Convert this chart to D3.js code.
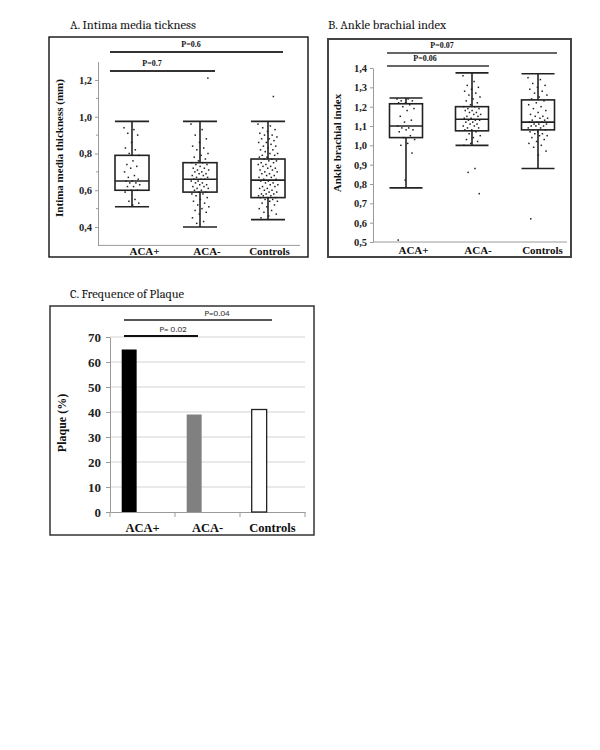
<!DOCTYPE html>
<html><head><meta charset="utf-8">
<script src="https://cdn.jsdelivr.net/npm/d3@7"></script>
<style>body{margin:0;background:#fff}svg{display:block}</style>
</head><body><svg id="c" width="600" height="750"></svg>
<script>
// ---------- DATA ----------
const groups = ["ACA+", "ACA-", "Controls"];

// Panel A: intima media thickness (mm)
const imtTicks = [0.4, 0.6, 0.8, 1.0, 1.2];
const imtQ1 = [0.60, 0.59, 0.56];
const imtMedian = [0.65, 0.66, 0.655];
const imtQ3 = [0.79, 0.75, 0.77];
const imtLow = [0.51, 0.40, 0.44];
const imtHigh = [0.975, 0.975, 0.975];
const imtAcaPos = [0.94,0.93,0.91,0.90,0.86,0.83,0.82,0.80,0.79,0.76,0.74,0.73,0.72,0.70,0.68,0.67,0.66,0.65,0.65,0.64,0.64,0.63,0.62,0.62,0.60,0.60,0.59,0.55,0.54,0.53,0.52];
const imtAcaNeg = [0.96,0.93,0.90,0.88,0.86,0.84,0.83,0.82,0.80,0.79,0.78,0.77,0.76,0.75,0.75,0.74,0.74,0.73,0.72,0.72,0.71,0.71,0.70,0.70,0.69,0.69,0.68,0.68,0.67,0.67,0.66,0.66,0.66,0.65,0.65,0.64,0.64,0.63,0.63,0.62,0.62,0.61,0.61,0.60,0.60,0.59,0.59,0.58,0.58,0.57,0.56,0.55,0.54,0.53,0.52,0.51,0.50,0.49,0.48,0.47,0.45,0.43,0.42,1.21];
const imtControls = [0.96,0.95,0.94,0.93,0.92,0.91,0.90,0.90,0.89,0.88,0.88,0.87,0.86,0.86,0.85,0.84,0.84,0.83,0.82,0.82,0.81,0.80,0.80,0.79,0.79,0.78,0.78,0.77,0.77,0.76,0.76,0.75,0.75,0.74,0.74,0.73,0.73,0.72,0.72,0.71,0.71,0.70,0.70,0.69,0.69,0.68,0.68,0.67,0.67,0.66,0.66,0.65,0.65,0.64,0.64,0.63,0.63,0.62,0.62,0.61,0.61,0.60,0.60,0.59,0.59,0.58,0.58,0.58,0.57,0.57,0.57,0.56,0.56,0.56,0.55,0.55,0.54,0.54,0.53,0.52,0.51,0.50,0.49,0.48,0.47,0.46,0.45,1.11];
const imtPLabels = ["P=0.7", "P=0.6"];

// Panel B: ankle brachial index
const abiTicks = [0.5,0.6,0.7,0.8,0.9,1.0,1.1,1.2,1.3,1.4];
const abiQ1 = [1.04, 1.075, 1.08];
const abiMedian = [1.10, 1.135, 1.12];
const abiQ3 = [1.215, 1.20, 1.235];
const abiLow = [0.78, 1.00, 0.88];
const abiHigh = [1.245, 1.375, 1.37];
const abiAcaPos = [1.24,1.24,1.23,1.23,1.22,1.22,1.21,1.20,1.19,1.18,1.15,1.13,1.12,1.10,1.09,1.09,1.08,1.08,1.07,1.05,1.04,1.03,1.01,1.00,0.96,0.82,0.51];
const abiAcaNeg = [1.36,1.33,1.31,1.30,1.29,1.28,1.27,1.26,1.25,1.24,1.23,1.22,1.21,1.20,1.20,1.19,1.19,1.18,1.18,1.17,1.17,1.16,1.16,1.15,1.15,1.14,1.14,1.13,1.13,1.13,1.12,1.12,1.11,1.11,1.10,1.10,1.09,1.09,1.08,1.08,1.07,1.06,1.05,1.04,1.03,1.02,1.01,1.00,0.88,0.86,0.75];
const abiControls = [1.35,1.34,1.32,1.31,1.30,1.29,1.28,1.27,1.26,1.25,1.24,1.23,1.22,1.21,1.20,1.19,1.18,1.17,1.16,1.15,1.15,1.14,1.14,1.13,1.13,1.12,1.12,1.12,1.11,1.11,1.11,1.10,1.10,1.10,1.09,1.09,1.08,1.08,1.07,1.07,1.06,1.06,1.05,1.05,1.04,1.03,1.02,1.01,1.00,0.99,0.97,0.95,0.62];
const abiPLabels = ["P=0.06", "P=0.07"];

// Panel C: frequence of plaque (%)
const plaqueTicks = [0, 10, 20, 30, 40, 50, 60, 70];
const plaqueValues = [65, 39, 41];
const plaqueColors = ["#000000", "#808080", "#ffffff"];
const plaquePLabels = ["P= 0.02", "P=0.04"];

// ---------- DRAW ----------
const svg = d3.select("#c");
const serif = "'Liberation Serif', 'Times New Roman', serif";
const title = "Cambria, 'DejaVu Serif', serif";

function frame(x0, y0, x1, y1, color, w) {
  svg.append("rect").attr("x", x0).attr("y", y0).attr("width", x1 - x0).attr("height", y1 - y0)
    .attr("fill", "none").attr("stroke", color).attr("stroke-width", w);
}
function titleText(x, y, t) {
  svg.append("text").attr("x", x).attr("y", y).attr("font-family", title).attr("font-size", 12.5)
    .attr("fill", "#111").text(t);
}
function yLabel(x, y, t, size) {
  svg.append("text").attr("transform", `translate(${x},${y}) rotate(-90)`).attr("text-anchor", "middle")
    .attr("font-family", serif).attr("font-weight", "bold").attr("font-size", size).attr("fill", "#111").text(t);
}
function jitter(i, w) { return (((i * 0.6180339887) % 1) - 0.5) * w; }

function boxPanel(cfg) {
  const y = d3.scaleLinear().domain(cfg.domain).range(cfg.yRange);
  const xb = d3.scalePoint().domain(groups).range(cfg.boxRange);
  const xl = d3.scalePoint().domain(groups).range(cfg.labelRange);
  // y axis
  const ya = svg.append("g").attr("transform", `translate(${cfg.axisX},0)`)
    .call(d3.axisLeft(y).tickValues(cfg.ticks).tickSize(3).tickSizeOuter(0)
      .tickFormat(d => d.toFixed(1).replace(".", ",")));
  ya.select(".domain").attr("stroke", "#9a9a9a");
  ya.selectAll(".tick line").attr("stroke", "#9a9a9a");
  ya.selectAll("text").attr("font-family", serif).attr("font-weight", "bold").attr("font-size", 10.5).attr("fill", "#222");
  if (cfg.minor) {
    svg.append("g").selectAll("line").data(cfg.minor).join("line")
      .attr("x1", cfg.axisX - 2).attr("x2", cfg.axisX).attr("y1", d => y(d)).attr("y2", d => y(d)).attr("stroke", "#9a9a9a");
  }
  // x axis
  const xa = svg.append("g").attr("transform", `translate(0,${y(cfg.domain[0])})`)
    .call(d3.axisBottom(xl).tickSize(0).tickPadding(cfg.labelPad));
  xa.select(".domain").remove();
  svg.append("line").attr("x1", cfg.axisX).attr("x2", cfg.axisEnd).attr("y1", y(cfg.domain[0])).attr("y2", y(cfg.domain[0]))
    .attr("stroke", "#9a9a9a");
  xa.selectAll("text").attr("font-family", serif).attr("font-weight", "bold").attr("font-size", 11).attr("fill", "#111");

  const bw = cfg.boxW;
  groups.forEach((g, i) => {
    const cx = xb(g);
    const gg = svg.append("g").attr("stroke", "#222").attr("stroke-width", 1.6).attr("fill", "none");
    gg.append("line").attr("x1", cx).attr("x2", cx).attr("y1", y(cfg.low[i])).attr("y2", y(cfg.high[i]));
    gg.append("line").attr("x1", cx - bw / 2).attr("x2", cx + bw / 2).attr("y1", y(cfg.low[i])).attr("y2", y(cfg.low[i]));
    gg.append("line").attr("x1", cx - bw / 2).attr("x2", cx + bw / 2).attr("y1", y(cfg.high[i])).attr("y2", y(cfg.high[i]));
    gg.append("rect").attr("x", cx - bw / 2).attr("y", y(cfg.q3[i])).attr("width", bw)
      .attr("height", y(cfg.q1[i]) - y(cfg.q3[i])).attr("fill", "#fff");
    gg.append("line").attr("x1", cx - bw / 2).attr("x2", cx + bw / 2).attr("y1", y(cfg.med[i])).attr("y2", y(cfg.med[i]));
    svg.append("g").selectAll("rect").data(cfg.points[i]).join("rect")
      .attr("x", (d, j) => cx + jitter(j, cfg.jit[i]) - 0.75).attr("y", d => y(d) - 0.75)
      .attr("width", 1.5).attr("height", 1.5).attr("fill", "#222");
  });
  // significance bars
  cfg.sig.forEach((s, k) => {
    svg.append("line").attr("x1", s.x1).attr("x2", s.x2).attr("y1", s.y).attr("y2", s.y)
      .attr("stroke", cfg.sigColor).attr("stroke-width", 1.8);
    svg.append("text").attr("x", s.lx).attr("y", s.y - 5).attr("text-anchor", "middle")
      .attr("font-family", serif).attr("font-weight", "bold").attr("font-size", 8).attr("fill", "#111").text(cfg.pLabels[k]);
  });
}

// Panel A
frame(49, 37, 308, 257, "#111", 1.4);
titleText(70, 29, "A. Intima media tickness");
yLabel(63, 148, "Intima media thickness (mm)", 11);
boxPanel({
  domain: [0.3, 1.3], yRange: [245.4, 61.6], ticks: imtTicks, minor: [0.5, 0.7, 0.9, 1.1],
  axisX: 98, axisEnd: 300, boxRange: [132, 268], labelRange: [144, 269], boxW: 34, labelPad: 1.5,
  q1: imtQ1, med: imtMedian, q3: imtQ3, low: imtLow, high: imtHigh,
  points: [imtAcaPos, imtAcaNeg, imtControls], jit: [16, 18, 20],
  sig: [{ x1: 110, x2: 215, y: 71, lx: 152 }, { x1: 110, x2: 283, y: 52, lx: 191 }],
  sigColor: "#333", pLabels: imtPLabels
});

// Panel B
frame(328, 39, 571, 257, "#444", 2);
titleText(328, 29, "B. Ankle brachial index");
yLabel(341, 143, "Ankle brachial index", 11);
boxPanel({
  domain: [0.5, 1.4], yRange: [242, 68], ticks: abiTicks, minor: null,
  axisX: 373, axisEnd: 567, boxRange: [406, 538], labelRange: [413, 542], boxW: 33, labelPad: 4,
  q1: abiQ1, med: abiMedian, q3: abiQ3, low: abiLow, high: abiHigh,
  points: [abiAcaPos, abiAcaNeg, abiControls], jit: [18, 18, 20],
  sig: [{ x1: 387, x2: 489, y: 66, lx: 425 }, { x1: 387, x2: 557, y: 53, lx: 442 }],
  sigColor: "#666", pLabels: abiPLabels
});

// Panel C
frame(50, 306, 314, 535, "#333", 1.5);
titleText(70, 298, "C. Frequence of Plaque");
yLabel(66, 423, "Plaque (%)", 12);
const yC = d3.scaleLinear().domain([0, 70]).range([512, 337]);
const xC = d3.scaleBand().domain(groups).range([110, 305]);
svg.append("g").selectAll("line").data(plaqueTicks.filter(d => d > 0)).join("line")
  .attr("x1", 110).attr("x2", 305).attr("y1", d => yC(d)).attr("y2", d => yC(d)).attr("stroke", "#d3d3d3");
const yaC = svg.append("g").attr("transform", "translate(110,0)")
  .call(d3.axisLeft(yC).tickValues(plaqueTicks).tickSize(4).tickSizeOuter(0).tickPadding(5));
yaC.select(".domain").attr("stroke", "#9a9a9a");
yaC.selectAll(".tick line").attr("stroke", "#9a9a9a");
yaC.selectAll("text").attr("font-family", serif).attr("font-weight", "bold").attr("font-size", 13).attr("fill", "#222");
const xaC = svg.append("g").attr("transform", "translate(0,512)")
  .call(d3.axisBottom(xC).tickSize(0).tickPadding(11));
xaC.select(".domain").attr("stroke", "#9a9a9a");
xaC.selectAll("text").attr("font-family", serif).attr("font-weight", "bold").attr("font-size", 12.5).attr("fill", "#111");
svg.append("g").selectAll("line").data(groups.map(g => xC(g)).concat([305])).join("line")
  .attr("x1", d => d).attr("x2", d => d).attr("y1", 512).attr("y2", 517).attr("stroke", "#9a9a9a");
svg.append("g").selectAll("rect").data(plaqueValues).join("rect")
  .attr("x", (d, i) => xC(groups[i]) + xC.bandwidth() * 0.18).attr("width", xC.bandwidth() * 0.23)
  .attr("y", d => yC(d)).attr("height", d => yC(0) - yC(d))
  .attr("fill", (d, i) => plaqueColors[i]).attr("stroke", (d, i) => i === 2 ? "#222" : "none").attr("stroke-width", 1.3);
const sigC = [{ x1: 124, x2: 198, y: 336, lx: 173, c: "#111" }, { x1: 124, x2: 272, y: 320, lx: 217, c: "#555" }];
sigC.forEach((s, k) => {
  svg.append("line").attr("x1", s.x1).attr("x2", s.x2).attr("y1", s.y).attr("y2", s.y).attr("stroke", s.c).attr("stroke-width", 1.8);
  svg.append("text").attr("x", s.lx).attr("y", s.y - 4).attr("text-anchor", "middle")
    .attr("font-family", "Carlito, 'Liberation Sans', sans-serif").attr("font-size", 9).attr("fill", "#333").text(plaquePLabels[k]);
});
</script></body></html>
